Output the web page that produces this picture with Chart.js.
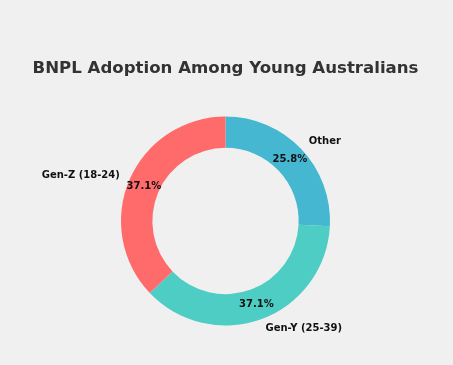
<!DOCTYPE html>
<html>
<head>
<meta charset="utf-8">
<script src="https://cdn.jsdelivr.net/npm/chart.js@4/dist/chart.umd.min.js"></script>
<style>
  html, body { margin: 0; padding: 0; background: #f0f0f0; }
  #wrap { width: 453px; height: 365px; }
</style>
</head>
<body>
<div id="wrap"><canvas id="grafico" width="453" height="365"></canvas></div>
<script>
// dados do gráfico (ordem horária a partir do topo)
const categorias = ["Other", "Gen-Y (25-39)", "Gen-Z (18-24)"];
const valores = [25.8, 37.1, 37.1];
const cores = ["#45B7D1", "#4ECDC4", "#FF6B6B"];
const titulo = "BNPL Adoption Among Young Australians";

// desenha titulo, rotulos externos e percentuais
const rotulosPlugin = {
    id: "rotulos",
    afterDatasetsDraw(chart) {
        const ctx = chart.ctx;
        const meta = chart.getDatasetMeta(0);
        const total = valores.reduce((a, b) => a + b, 0);

        ctx.save();
        ctx.fillStyle = "#333333";
        ctx.font = "bold 16.6px 'DejaVu Sans'";
        ctx.textAlign = "center";
        ctx.textBaseline = "middle";
        ctx.fillText(titulo, 225.5, 68.5);

        meta.data.forEach((arc, i) => {
            const meio = (arc.startAngle + arc.endAngle) / 2;
            const r = arc.outerRadius;
            const cos = Math.cos(meio);
            const sin = Math.sin(meio);

            // percentual dentro do anel
            ctx.fillStyle = "#111111";
            ctx.font = "bold 10px 'DejaVu Sans'";
            ctx.textAlign = "center";
            ctx.fillText((valores[i] / total * 100).toFixed(1) + "%", arc.x + cos * r * 0.85, arc.y + sin * r * 0.85);

            // rotulo da categoria fora do anel
            const lx = arc.x + cos * r * 1.1;
            const ly = arc.y + sin * r * 1.1;
            ctx.textAlign = cos >= 0 ? "left" : "right";
            ctx.fillText(categorias[i], lx, ly);
        });
        ctx.restore();
    }
};

new Chart(document.getElementById("grafico"), {
    type: "doughnut",
    data: {
        labels: categorias,
        datasets: [{
            data: valores,
            backgroundColor: cores,
            borderWidth: 0,
            hoverOffset: 0
        }]
    },
    options: {
        responsive: false,
        animation: false,
        cutout: "70%",
        layout: { padding: { top: 116.5, bottom: 39.5, left: 121, right: 123 } },
        plugins: {
            legend: { display: false },
            tooltip: { enabled: false },
            title: { display: false }
        }
    },
    plugins: [rotulosPlugin]
});
</script>
</body>
</html>
